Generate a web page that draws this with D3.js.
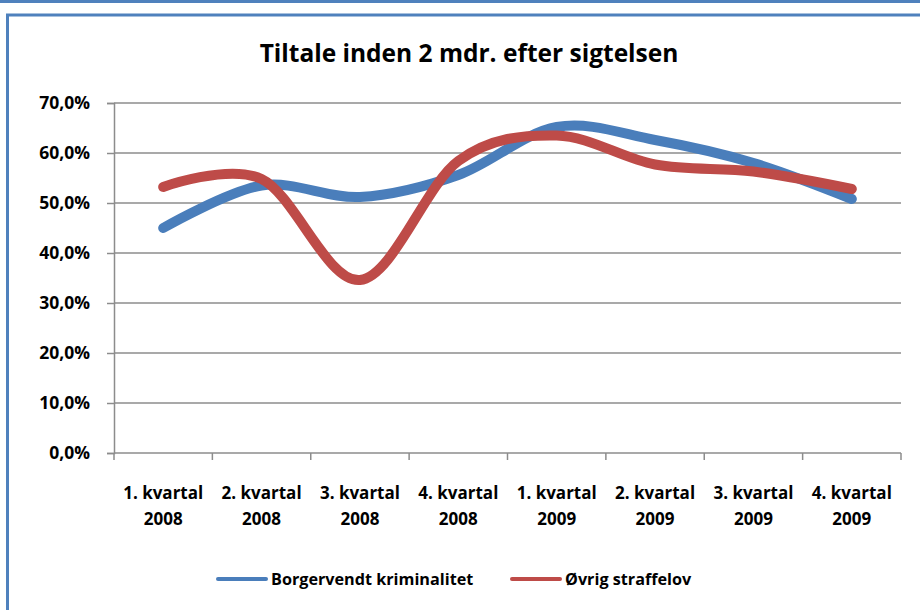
<!DOCTYPE html>
<html>
<head>
<meta charset="utf-8">
<script src="https://cdn.jsdelivr.net/npm/d3@7"></script>
<style>
  html, body { margin: 0; padding: 0; background: #fff; }
  svg { display: block; font-family: "Open Sans", Lato, sans-serif; }
</style>
</head>
<body>
<div id="chart"></div>
<script>
// quarters along the x axis (two-line labels)
const quarters = ['1. kvartal|2008', '2. kvartal|2008', '3. kvartal|2008', '4. kvartal|2008',
  '1. kvartal|2009', '2. kvartal|2009', '3. kvartal|2009', '4. kvartal|2009'];
const borgervendt = [45.0, 53.5, 51.2, 55.6, 65.2, 62.6, 58.0, 50.8];
const oevrig = [53.2, 54.8, 34.6, 58.4, 63.5, 57.7, 56.3, 52.8];
const seriesNames = ['Borgervendt kriminalitet', 'Øvrig straffelov'];
const seriesColors = ['#4A7EBB', '#BE4B48'];
const yTicks = [0, 10, 20, 30, 40, 50, 60, 70];

const W = 920, H = 610;
const plot = { left: 114, right: 901, top: 103, bottom: 453 };
const FONT = '"Open Sans", Lato, sans-serif';

const svg = d3.select('#chart').append('svg')
  .attr('width', W).attr('height', H);

// outer decoration: top bar + chart frame
svg.append('rect').attr('x', 0).attr('y', 0).attr('width', W).attr('height', 3).attr('fill', '#4F81BD');
svg.append('rect').attr('x', 7.5).attr('y', 15).attr('width', W + 10).attr('height', H)
  .attr('fill', '#fff').attr('stroke', '#4F81BD').attr('stroke-width', 3);

svg.append('text')
  .attr('x', 469).attr('y', 62)
  .attr('text-anchor', 'middle')
  .attr('font-size', 24.5).attr('font-weight', 700)
  .attr('fill', '#000')
  .text('Tiltale inden 2 mdr. efter sigtelsen');

const x = d3.scaleBand().domain(quarters).range([plot.left, plot.right]);
const y = d3.scaleLinear().domain([0, 70]).range([plot.bottom, plot.top]);

// gridlines
svg.append('g')
  .selectAll('line')
  .data(yTicks.filter((t) => t > 0))
  .join('line')
  .attr('x1', plot.left).attr('x2', plot.right)
  .attr('y1', (d) => y(d)).attr('y2', (d) => y(d))
  .attr('stroke', '#8c8c8c').attr('stroke-width', 1.5);

// y axis
const yAxis = svg.append('g')
  .attr('transform', `translate(${plot.left},0)`)
  .call(d3.axisLeft(y).tickValues(yTicks).tickSize(7).tickPadding(17)
    .tickFormat((d) => d3.format('.1f')(d).replace('.', ',') + '%'));
yAxis.select('.domain').attr('stroke', '#8c8c8c').attr('stroke-width', 1.5);
yAxis.selectAll('.tick line').attr('stroke', '#8c8c8c').attr('stroke-width', 1.5);
yAxis.selectAll('.tick text')
  .attr('font-family', FONT)
  .attr('font-size', 17.5).attr('font-weight', 700).attr('fill', '#000');

// x axis
const xAxis = svg.append('g')
  .attr('transform', `translate(0,${plot.bottom})`)
  .call(d3.axisBottom(x).tickSize(0).tickFormat(''));
xAxis.select('.domain').attr('d', `M${plot.left},0H${plot.right}`)
  .attr('stroke', '#8c8c8c').attr('stroke-width', 1.5);
xAxis.selectAll('.tick').remove();

const bounds = quarters.map((q) => x(q)).concat([plot.right]);
xAxis.selectAll('line.qtick')
  .data(bounds)
  .join('line')
  .attr('class', 'qtick')
  .attr('x1', (d) => d).attr('x2', (d) => d)
  .attr('y1', 0).attr('y2', 7)
  .attr('stroke', '#8c8c8c').attr('stroke-width', 1.5);

const xLabels = svg.append('g')
  .selectAll('text')
  .data(quarters)
  .join('text')
  .attr('x', (d) => x(d) + x.bandwidth() / 2)
  .attr('y', 499)
  .attr('text-anchor', 'middle')
  .attr('font-size', 17).attr('font-weight', 700).attr('fill', '#000');
xLabels.each(function (d) {
  const parts = d.split('|');
  d3.select(this).selectAll('tspan')
    .data(parts)
    .join('tspan')
    .attr('x', x(d) + x.bandwidth() / 2)
    .attr('dy', (p, i) => (i === 0 ? 0 : 26))
    .text((p) => p);
});

// series lines
const line = d3.line()
  .x((d, i) => x(quarters[i]) + x.bandwidth() / 2)
  .y((d) => y(d))
  .curve(d3.curveCatmullRom.alpha(0));

[borgervendt, oevrig].forEach((values, i) => {
  svg.append('path')
    .datum(values)
    .attr('d', line)
    .attr('fill', 'none')
    .attr('stroke', seriesColors[i])
    .attr('stroke-width', 10)
    .attr('stroke-linecap', 'round')
    .attr('stroke-linejoin', 'round');
});

// legend
const legendX = [218, 512];
const legend = svg.append('g')
  .selectAll('g')
  .data(seriesNames)
  .join('g')
  .attr('transform', (d, i) => `translate(${legendX[i]},579)`);
legend.append('line')
  .attr('x1', 0).attr('x2', 48)
  .attr('stroke', (d, i) => seriesColors[i])
  .attr('stroke-width', 4)
  .attr('stroke-linecap', 'round');
legend.append('text')
  .attr('x', 53).attr('y', 6)
  .attr('font-size', 16.2).attr('font-weight', 700).attr('fill', '#000')
  .text((d) => d);
</script>
</body>
</html>
